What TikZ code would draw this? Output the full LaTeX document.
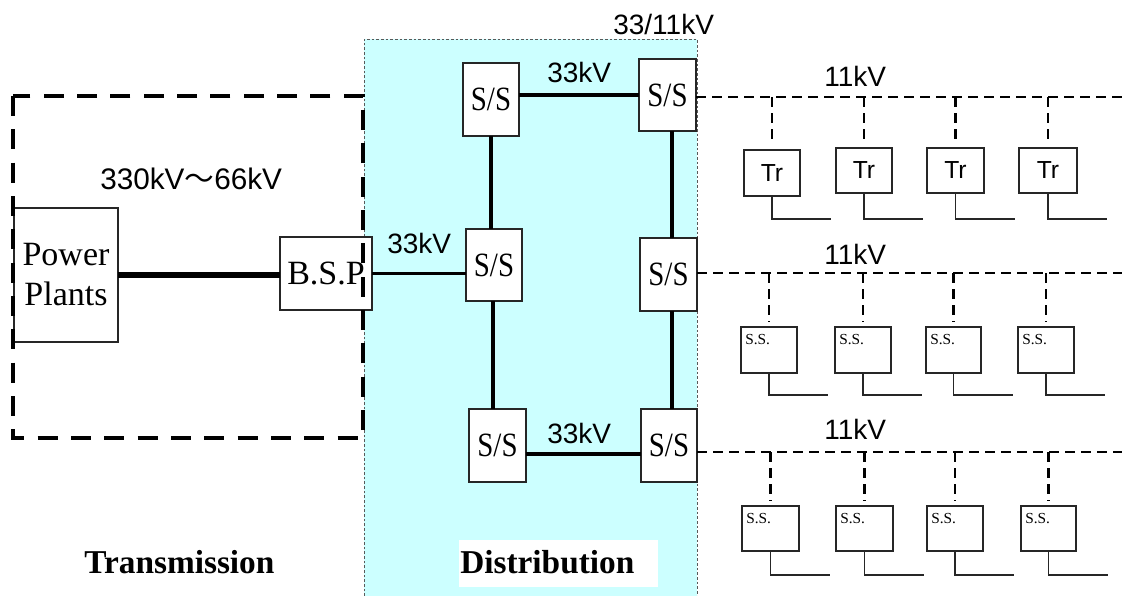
\documentclass[tikz,border=0pt]{standalone}
\usepackage{fontspec}
\usepackage{graphicx}
\setmainfont{Liberation Serif}
\setsansfont{Liberation Sans}
\newfontfamily\cjkfont{Noto Sans CJK JP}
\usetikzlibrary{calc}
\definecolor{distcyan}{RGB}{204,255,255}
\tikzset{
  box/.style={draw=black!85, line width=0.8pt, fill=white, inner sep=0pt, outer sep=0pt},
  bigserif/.style={font=\fontsize{25.5}{30}\selectfont},
  ssfont/.style={font=\fontsize{25.5}{30}\selectfont},
  trfont/.style={font=\sffamily\fontsize{18.5}{22}\selectfont},
  sslabel/.style={font=\fontsize{11.5}{13}\selectfont, inner sep=0pt, anchor=base west},
  kvlabel/.style={font=\sffamily\fontsize{21}{25}\selectfont, inner sep=0pt, anchor=base west},
  titlelabel/.style={font=\bfseries\fontsize{25}{30}\selectfont, inner sep=0pt, anchor=base west},
  bus/.style={line width=2.5pt},
  mainline/.style={line width=4.5pt},
  feeder/.style={line width=1.8pt, dash pattern=on 7.5pt off 4.5pt},
  outline/.style={line width=0.8pt, draw=black!85},
  region/.style={line width=3pt, dash pattern=on 15pt off 10pt},
  distframe/.style={draw=black!65, line width=0.75pt, dash pattern=on 2pt off 1.5pt},
}
\begin{document}
\begin{tikzpicture}[x=0.75pt,y=-0.75pt]
\useasboundingbox (0,0) rectangle (1122,596);

% distribution area
\fill[distcyan] (364,39) rectangle (697,596);
\draw[distframe] (364,596) -- (364,39) -- (697,39) -- (697,596);

% transmission side
\node[box, minimum width=78pt, minimum height=100.5pt, bigserif, align=center] (pp) at (66,275) {Power\\Plants};
\node[box, minimum width=69pt, minimum height=54.75pt, bigserif] (bsp) at (326,273.5) {B.S.P};
\draw[mainline] (pp.east) -- (pp.east -| bsp.west);

% substations
\node[box, minimum width=42pt, minimum height=54.75pt, ssfont] (s1) at (491,99.5) {\scalebox{0.85}[1]{S/S}};
\node[box, minimum width=42.75pt, minimum height=54pt, ssfont] (s2) at (667.5,95) {\scalebox{0.85}[1]{S/S}};
\node[box, minimum width=42pt, minimum height=54pt, ssfont] (s3) at (494,265) {\scalebox{0.85}[1]{S/S}};
\node[box, minimum width=42.75pt, minimum height=54.75pt, ssfont] (s4) at (668.5,274.5) {\scalebox{0.85}[1]{S/S}};
\node[box, minimum width=42.75pt, minimum height=54.75pt, ssfont] (s5) at (497.5,445.5) {\scalebox{0.85}[1]{S/S}};
\node[box, minimum width=42pt, minimum height=54.75pt, ssfont] (s6) at (669,445.5) {\scalebox{0.85}[1]{S/S}};

\draw[bus] (bsp.east) -- (bsp.east -| s3.west);
\draw[bus] (s1.east |- s2.west) -- (s2.west);
\draw[bus] (s1.south) -- (s1.south |- s3.north);
\draw[bus] ([xshift=-0.75pt]s3.south) -- ([xshift=-0.75pt]s3.south |- s5.north);
\draw[bus] ([xshift=3.4pt]s2.south) -- ([xshift=3.4pt]s2.south |- s4.north);
\draw[bus] ([xshift=2.6pt]s4.south) -- ([xshift=2.6pt]s4.south |- s6.north);
\draw[bus] ([yshift=-6.4pt]s5.east) -- ([yshift=-6.4pt]s5.east -| s6.west);

% 11 kV feeders
\coordinate (e1) at (1122,97);
\coordinate (e2) at (1122,273);
\coordinate (e3) at (1122,452);
\draw[feeder] (s2.east |- e1) -- (e1);
\draw[feeder] (s4.east |- e2) -- (e2);
\draw[feeder] (s6.east |- e3) -- (e3);

\foreach \n/\cx/\cy/\w/\h in {1/772/173/56/46, 2/864/170.5/56/45, 3/955.5/170.5/57/45, 4/1048/170.5/58/45} {
  \node[box, minimum width=\w*0.75pt, minimum height=\h*0.75pt, trfont] (tr\n) at (\cx,\cy) {Tr};
  \draw[feeder, shorten >=4pt] (tr\n.north |- e1) -- (tr\n.north);
  \draw[outline] (tr\n.south) -- ++(0,{219-\cy-\h/2}) -- ++(59,0);
}
\foreach \n/\cx/\w in {1/769/56, 2/863/56, 3/953.5/55, 4/1046/56} {
  \node[box, minimum width=\w*0.75pt, minimum height=34.5pt] (ssa\n) at (\cx,350) {};
  \node[sslabel] (ssat\n) at ([xshift=3pt,yshift=-12.75pt]ssa\n.north west) {S.S.};
  \draw[feeder, shorten >=4pt] (ssa\n.north |- e2) -- (ssa\n.north);
  \draw[outline] (ssa\n.south) -- ++(0,22) -- ++(59,0);
}
\foreach \n/\cx/\w in {1/770.5/57, 2/864.5/57, 3/955/56, 4/1048.5/55} {
  \node[box, minimum width=\w*0.75pt, minimum height=33.75pt] (ssb\n) at (\cx,528.5) {};
  \node[sslabel] (ssbt\n) at ([xshift=3pt,yshift=-12.75pt]ssb\n.north west) {S.S.};
  \draw[feeder, shorten >=4pt] (ssb\n.north |- e3) -- (ssb\n.north);
  \draw[outline] (ssb\n.south) -- ++(0,24) -- ++(59,0);
}

% transmission region frame
\draw[region] (13,96) rectangle (363,438);

% voltage labels
\node[kvlabel, font=\sffamily\fontsize{22.3}{26}\selectfont] (l330) at (100,189) {330kV{\cjkfont ～}66kV};
\node[kvlabel] (l33a) at (547,82) {33kV};
\node[kvlabel] (l33b) at (387,253) {33kV};
\node[kvlabel] (l33c) at (547,443) {33kV};
\node[kvlabel] (l3311) at (613,35) {33/11kV};
\node[kvlabel] (l11a) at (824,86) {11kV};
\node[kvlabel] (l11b) at (824,264) {11kV};
\node[kvlabel] (l11c) at (824,439) {11kV};

% titles
\node[titlelabel] (trans) at (84,573) {Transmission};
\node[fill=white, inner sep=0pt, minimum width=149.25pt, minimum height=35.25pt] (distbg) at (558.5,563.5) {};
\node[titlelabel] (dist) at (460,573) {Distribution};
\end{tikzpicture}
\end{document}
